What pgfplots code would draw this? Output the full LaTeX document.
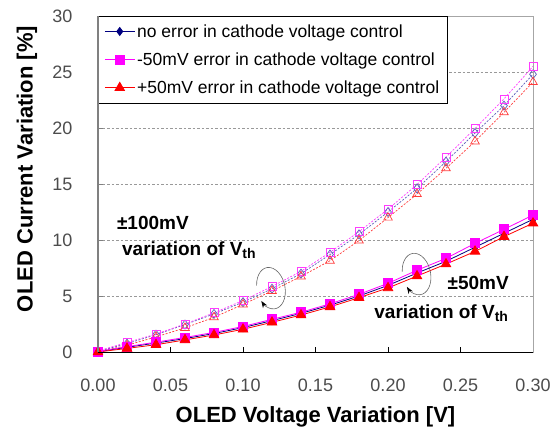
\documentclass[border=0pt]{standalone}
\usepackage{fontspec}
\setmainfont{Liberation Sans}
\usepackage{pgfplots}
\usepackage{pgfplotstable}
\pgfplotsset{compat=1.18}
\usetikzlibrary{arrows.meta}

\definecolor{navyc}{RGB}{0,0,128}
\definecolor{magc}{RGB}{255,0,255}
\definecolor{redc}{RGB}{255,0,0}
\definecolor{lblue}{RGB}{90,90,185}
\definecolor{lmag}{RGB}{255,60,255}
\definecolor{lred}{RGB}{255,60,60}

\pgfplotstableread{
x     nb    nm    np    db    dm    dp
0.00  0.03  0.05  0.00  0.05  0.10  0.00
0.02  0.42  0.48  0.32  0.75  0.85  0.60
0.04  0.80  0.88  0.65  1.55  1.60  1.35
0.06  1.20  1.30  1.08  2.45  2.50  2.15
0.08  1.65  1.75  1.52  3.40  3.50  3.10
0.10  2.18  2.28  2.03  4.45  4.60  4.25
0.12  2.80  2.92  2.65  5.65  5.85  5.45
0.14  3.45  3.55  3.30  7.00  7.20  6.75
0.16  4.18  4.30  4.03  8.70  8.90  8.15
0.18  5.00  5.15  4.85  10.50 10.75 9.95
0.20  5.95  6.13  5.72  12.50 12.75 12.00
0.22  7.05  7.30  6.78  14.60 14.95 14.10
0.24  8.10  8.36  7.85  17.00 17.40 16.40
0.26  9.35  9.70  8.98  19.55 19.95 18.80
0.28  10.60 10.95 10.30 22.00 22.60 21.40
0.30  11.85 12.23 11.50 24.80 25.50 24.10
}\data

\pgfplotsset{myleg/.style={legend image code/.code={\draw[mark repeat=2, mark phase=2] plot coordinates {(0pt,0pt) (15pt,0pt) (30pt,0pt)};}}}

\begin{document}
\begin{tikzpicture}
\begin{axis}[
  scale only axis, width=435pt, height=336pt,
  xmin=0, xmax=0.3, ymin=0, ymax=30,
  xtick={0,0.05,0.1,0.15,0.2,0.25,0.3},
  ytick={0,5,10,15,20,25,30},
  xtick pos=left, ytick pos=left,
  tick align=inside, major tick length=5pt,
  x tick style={black, line width=0.6pt},
  y tick style={gray, line width=0.6pt},
  ymajorgrids, grid style={gray!80, line width=0.5pt, dash pattern=on 2.5pt off 2pt},
  axis line style={gray!70, line width=0.6pt},
  /pgf/number format/assume math mode=true,
  ticklabel style={font=\fontsize{18}{18}\selectfont, text=black!70},
  xticklabel style={/pgf/number format/.cd, fixed, fixed zerofill, precision=2, /tikz/.cd, yshift=-23pt},
  yticklabel style={xshift=-22pt},
  xlabel={OLED Voltage Variation [V]},
  ylabel={OLED Current Variation [\%]},
  label style={font=\bfseries\fontsize{22}{22}\selectfont},
  xlabel style={at={(axis description cs:0.5,0)}, anchor=center, yshift=-65pt},
  ylabel style={at={(axis description cs:0,0.5)}, anchor=center, yshift=71pt, xshift=15pt},
  legend style={at={(rel axis cs:0,1)}, anchor=north west, draw=black, line width=0.7pt,
    fill=white, font=\fontsize{17.5}{17.5}\selectfont, inner xsep=6pt, inner ysep=6pt,
    row sep=10pt},
  legend cell align=left,
  clip=false,
]
% dashed (+-100mV)
\addplot[lblue, line width=0.7pt, dash pattern=on 2pt off 1.5pt, mark=diamond, mark size=4.5pt, mark options={solid}, forget plot] table[x=x,y=db]{\data};
\addplot[lmag, line width=0.7pt, dash pattern=on 2pt off 1.5pt, mark=square, mark size=4pt, mark options={solid}, forget plot] table[x=x,y=dm]{\data};
\addplot[lred, line width=0.7pt, dash pattern=on 2pt off 1.5pt, mark=triangle, mark size=5pt, mark options={solid}, forget plot] table[x=x,y=dp]{\data};
% solid (+-50mV)
\addplot[myleg, navyc, line width=0.8pt, mark=diamond*, mark size=4pt, mark options={solid, fill=navyc}] table[x=x,y=nb]{\data};
\addlegendentry{no error in cathode voltage control}
\addplot[myleg, magc, line width=0.8pt, mark=square*, mark size=4.5pt, mark options={solid, fill=magc}] table[x=x,y=nm]{\data};
\addlegendentry{-50mV error in cathode voltage control}
\addplot[myleg, redc, line width=0.8pt, mark=triangle*, mark size=5.5pt, mark options={solid, fill=redc}] table[x=x,y=np]{\data};
\addlegendentry{+50mV error in cathode voltage control}

\coordinate (e1) at (axis cs:0.1193,5.7);
\coordinate (e2) at (axis cs:0.2197,6.96);
\coordinate (bl) at (rel axis cs:0,0);
\coordinate (tr) at (rel axis cs:1,1);

\node[anchor=west, font=\bfseries\fontsize{19}{19}\selectfont, inner sep=0pt] at (axis cs:0.0130,11.5) {±100mV};
\node[anchor=west, font=\bfseries\fontsize{19}{19}\selectfont, inner sep=0pt] at (axis cs:0.0165,9.1) {variation of V\raisebox{-0.35ex}{\fontsize{14}{14}\selectfont th}};
\node[anchor=west, font=\bfseries\fontsize{19}{19}\selectfont, inner sep=0pt] at (axis cs:0.2410,6.16) {±50mV};
\node[anchor=west, font=\bfseries\fontsize{19}{19}\selectfont, inner sep=0pt] at (axis cs:0.1905,3.48) {variation of V\raisebox{-0.35ex}{\fontsize{14}{14}\selectfont th}};
\end{axis}
\draw[black, line width=0.7pt] (bl) -- (tr |- bl);
\draw[gray, line width=1.5pt] (bl) -- (bl |- tr);
\draw[black!60, line width=0.6pt, -{Stealth[length=7pt,width=5pt,black]}, shift={(e1)}, rotate=12]
  (165:14pt and 21pt) arc[start angle=165, end angle=-150, x radius=14pt, y radius=21pt];
\draw[black!60, line width=0.6pt, -{Stealth[length=7pt,width=5pt,black]}, shift={(e2)}, rotate=12]
  (165:14pt and 21pt) arc[start angle=165, end angle=-150, x radius=14pt, y radius=21pt];
\pgfresetboundingbox
\path ([shift={(-98pt,-74pt)}]bl) rectangle ([shift={(17pt,16pt)}]tr);
\end{tikzpicture}
\end{document}
